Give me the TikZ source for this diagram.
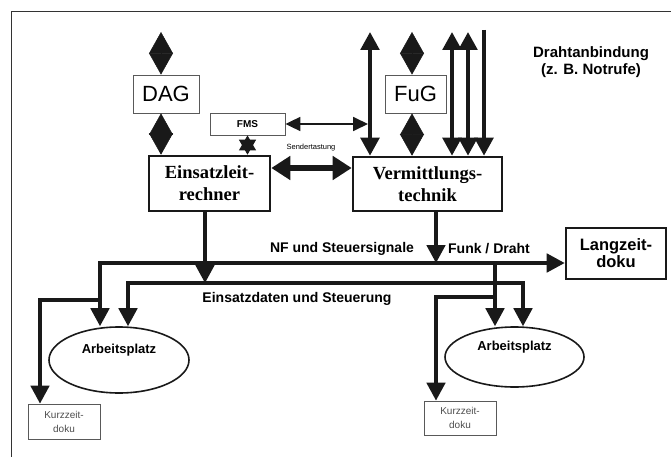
\documentclass[tikz,border=0pt]{standalone}
\usepackage{fontspec}
\setmainfont{Liberation Serif}
\setsansfont{Liberation Sans}
\usetikzlibrary{arrows.meta,shapes.geometric,calc}

\begin{document}
\begin{tikzpicture}[x=1pt,y=-1pt,
    thinbox/.style={draw=black!65,line width=0.8pt,inner sep=0pt,font=\sffamily},
    thickbox/.style={draw=black!90,line width=2.6pt,inner sep=0pt,align=center},
    platz/.style={ellipse,draw=black!90,line width=1.6pt,inner sep=0pt,font=\sffamily\bfseries\fontsize{13}{15}\selectfont,text height=10pt,text depth=24pt},
    lbl/.style={font=\sffamily\bfseries\fontsize{14}{16}\selectfont,inner sep=0pt},
    cline/.style={draw=black!90,line width=3.4pt},
    vline/.style={draw=black!90,line width=4pt},
    hd/.tip={Triangle[length=18pt,width=18.5pt]},
    dia/.tip={Triangle[length=21.5pt,width=24pt]},
    hb/.tip={Triangle[length=19pt,width=23pt]},
    sm/.tip={Triangle[length=15pt,width=14pt]},
    st/.tip={Triangle[length=15pt,width=17pt]}]
  \useasboundingbox (0,0) rectangle (671,457);
  \draw[line width=0.8pt,black!80] (11,457) -- (11,11) -- (671,11);

  \node[thinbox,minimum width=66pt,minimum height=38pt,font=\sffamily\fontsize{22}{24}\selectfont] (dag) at (166,94) {DAG};
  \node[thinbox,minimum width=61pt,minimum height=38pt,font=\sffamily\fontsize{22}{24}\selectfont] (fug) at (415.5,94) {FuG};
  \node[thinbox,minimum width=75pt,minimum height=22pt,font=\sffamily\bfseries\fontsize{10}{12}\selectfont] (fms) at (247.5,124) {FMS};
  \node[thickbox,minimum width=121pt,minimum height=55pt,font=\bfseries\fontsize{18.5}{22}\selectfont] (elr) at (209.5,183.5) {Einsatzleit-\\rechner};
  \node[thickbox,minimum width=149pt,minimum height=54pt,font=\bfseries\fontsize{18.5}{22}\selectfont] (vt) at (427.5,184) {Vermittlungs-\\technik};
  \node[thickbox,minimum width=100pt,minimum height=51pt,font=\sffamily\bfseries\fontsize{16.5}{17}\selectfont] (lzd) at (616,253.5) {Langzeit-\\doku};
  \node[platz,minimum width=140pt,minimum height=66pt] (ap1) at (119,360) {Arbeitsplatz};
  \node[platz,minimum width=139pt,minimum height=60pt] (ap2) at (514.5,357) {Arbeitsplatz};
  \node[thinbox,minimum width=72pt,minimum height=35pt,align=center,text=black!70,font=\sffamily\fontsize{10}{14}\selectfont] (kzd1) at (64,421.5) {Kurzzeit-\\doku};
  \node[thinbox,minimum width=72pt,minimum height=34pt,align=center,text=black!70,font=\sffamily\fontsize{10}{14}\selectfont] (kzd2) at (460,418) {Kurzzeit-\\doku};
  \node[lbl,align=center,font=\sffamily\bfseries\fontsize{15}{17}\selectfont] (draht) at (591,62) {Drahtanbindung\\(z. B. Notrufe)};
  \node[inner sep=0pt,font=\sffamily\fontsize{7.5}{9}\selectfont] (sendt) at (311,148) {Sendertastung};
  \node[lbl] (nf) at (342,249) {NF und Steuersignale};
  \node[lbl] (funk) at (489,249) {Funk / Draht};
  \node[lbl] (edat) at (297,299) {Einsatzdaten und Steuerung};

  \coordinate (dagt) at (161,32);
  \coordinate (fugt) at (412,32);
  \draw[draw=black!90,line width=0.5pt,dia-dia] (dagt) -- (dagt |- dag.north);
  \draw[draw=black!90,line width=0.5pt,dia-dia] (dagt |- dag.south) -- (dagt |- elr.north);
  \draw[draw=black!90,line width=0.5pt,dia-dia] (fugt) -- (fugt |- fug.north);
  \draw[draw=black!90,line width=0.5pt,dia-dia] (fugt |- fug.south) -- (fugt |- vt.north);
  \foreach \x in {370,452,468}{
    \coordinate (w\x) at (\x,32);
    \draw[vline,hd-hd] (w\x) -- (w\x |- vt.north);
  }
  \coordinate (w484) at (484,30);
  \draw[vline,-hd] (w484) -- (w484 |- vt.north);
  \draw[draw=black!90,line width=1.8pt,sm-sm] (fms.east) -- ($(w370 |- fms.east)+(-2,0)$);
  \draw[draw=black!90,line width=1pt,st-st] (fms.south) -- (fms.south |- elr.north);
  \draw[draw=black!90,line width=5.5pt,hb-hb] ($(elr.east)+(0,-15.5)$) -- ($(vt.west |- elr.east)+(0,-15.5)$);

  \coordinate (nfl) at (100,263);
  \coordinate (ed1) at (128,283);
  \coordinate (ed2) at (523,283);
  \coordinate (eo) at (205,211);
  \coordinate (vo) at (436,211);
  \coordinate (br) at (495,263);
  \coordinate (kb2) at (495,297);
  \coordinate (kb1) at (100,300);
  \draw[cline,hd-hd] (nfl |- ap1.north) -- (nfl) -- (lzd.west |- nfl);
  \draw[cline,hd-hd] (ed1 |- ap1.north) -- (ed1) -- (ed2) -- (ed2 |- ap2.north);
  \draw[cline,-hd] (eo) -- (eo |- ed1);
  \draw[cline,-hd] (vo) -- (vo |- nfl);
  \draw[cline,-hd] (br) -- (br |- ap2.north);
  \draw[cline,-hd] (kb2) -- (kb2 -| vo) -- (vo |- kzd2.north);
  \draw[cline,-hd] (kb1) -- (40,300) -- (40,0 |- kzd1.north);
\end{tikzpicture}
\end{document}
